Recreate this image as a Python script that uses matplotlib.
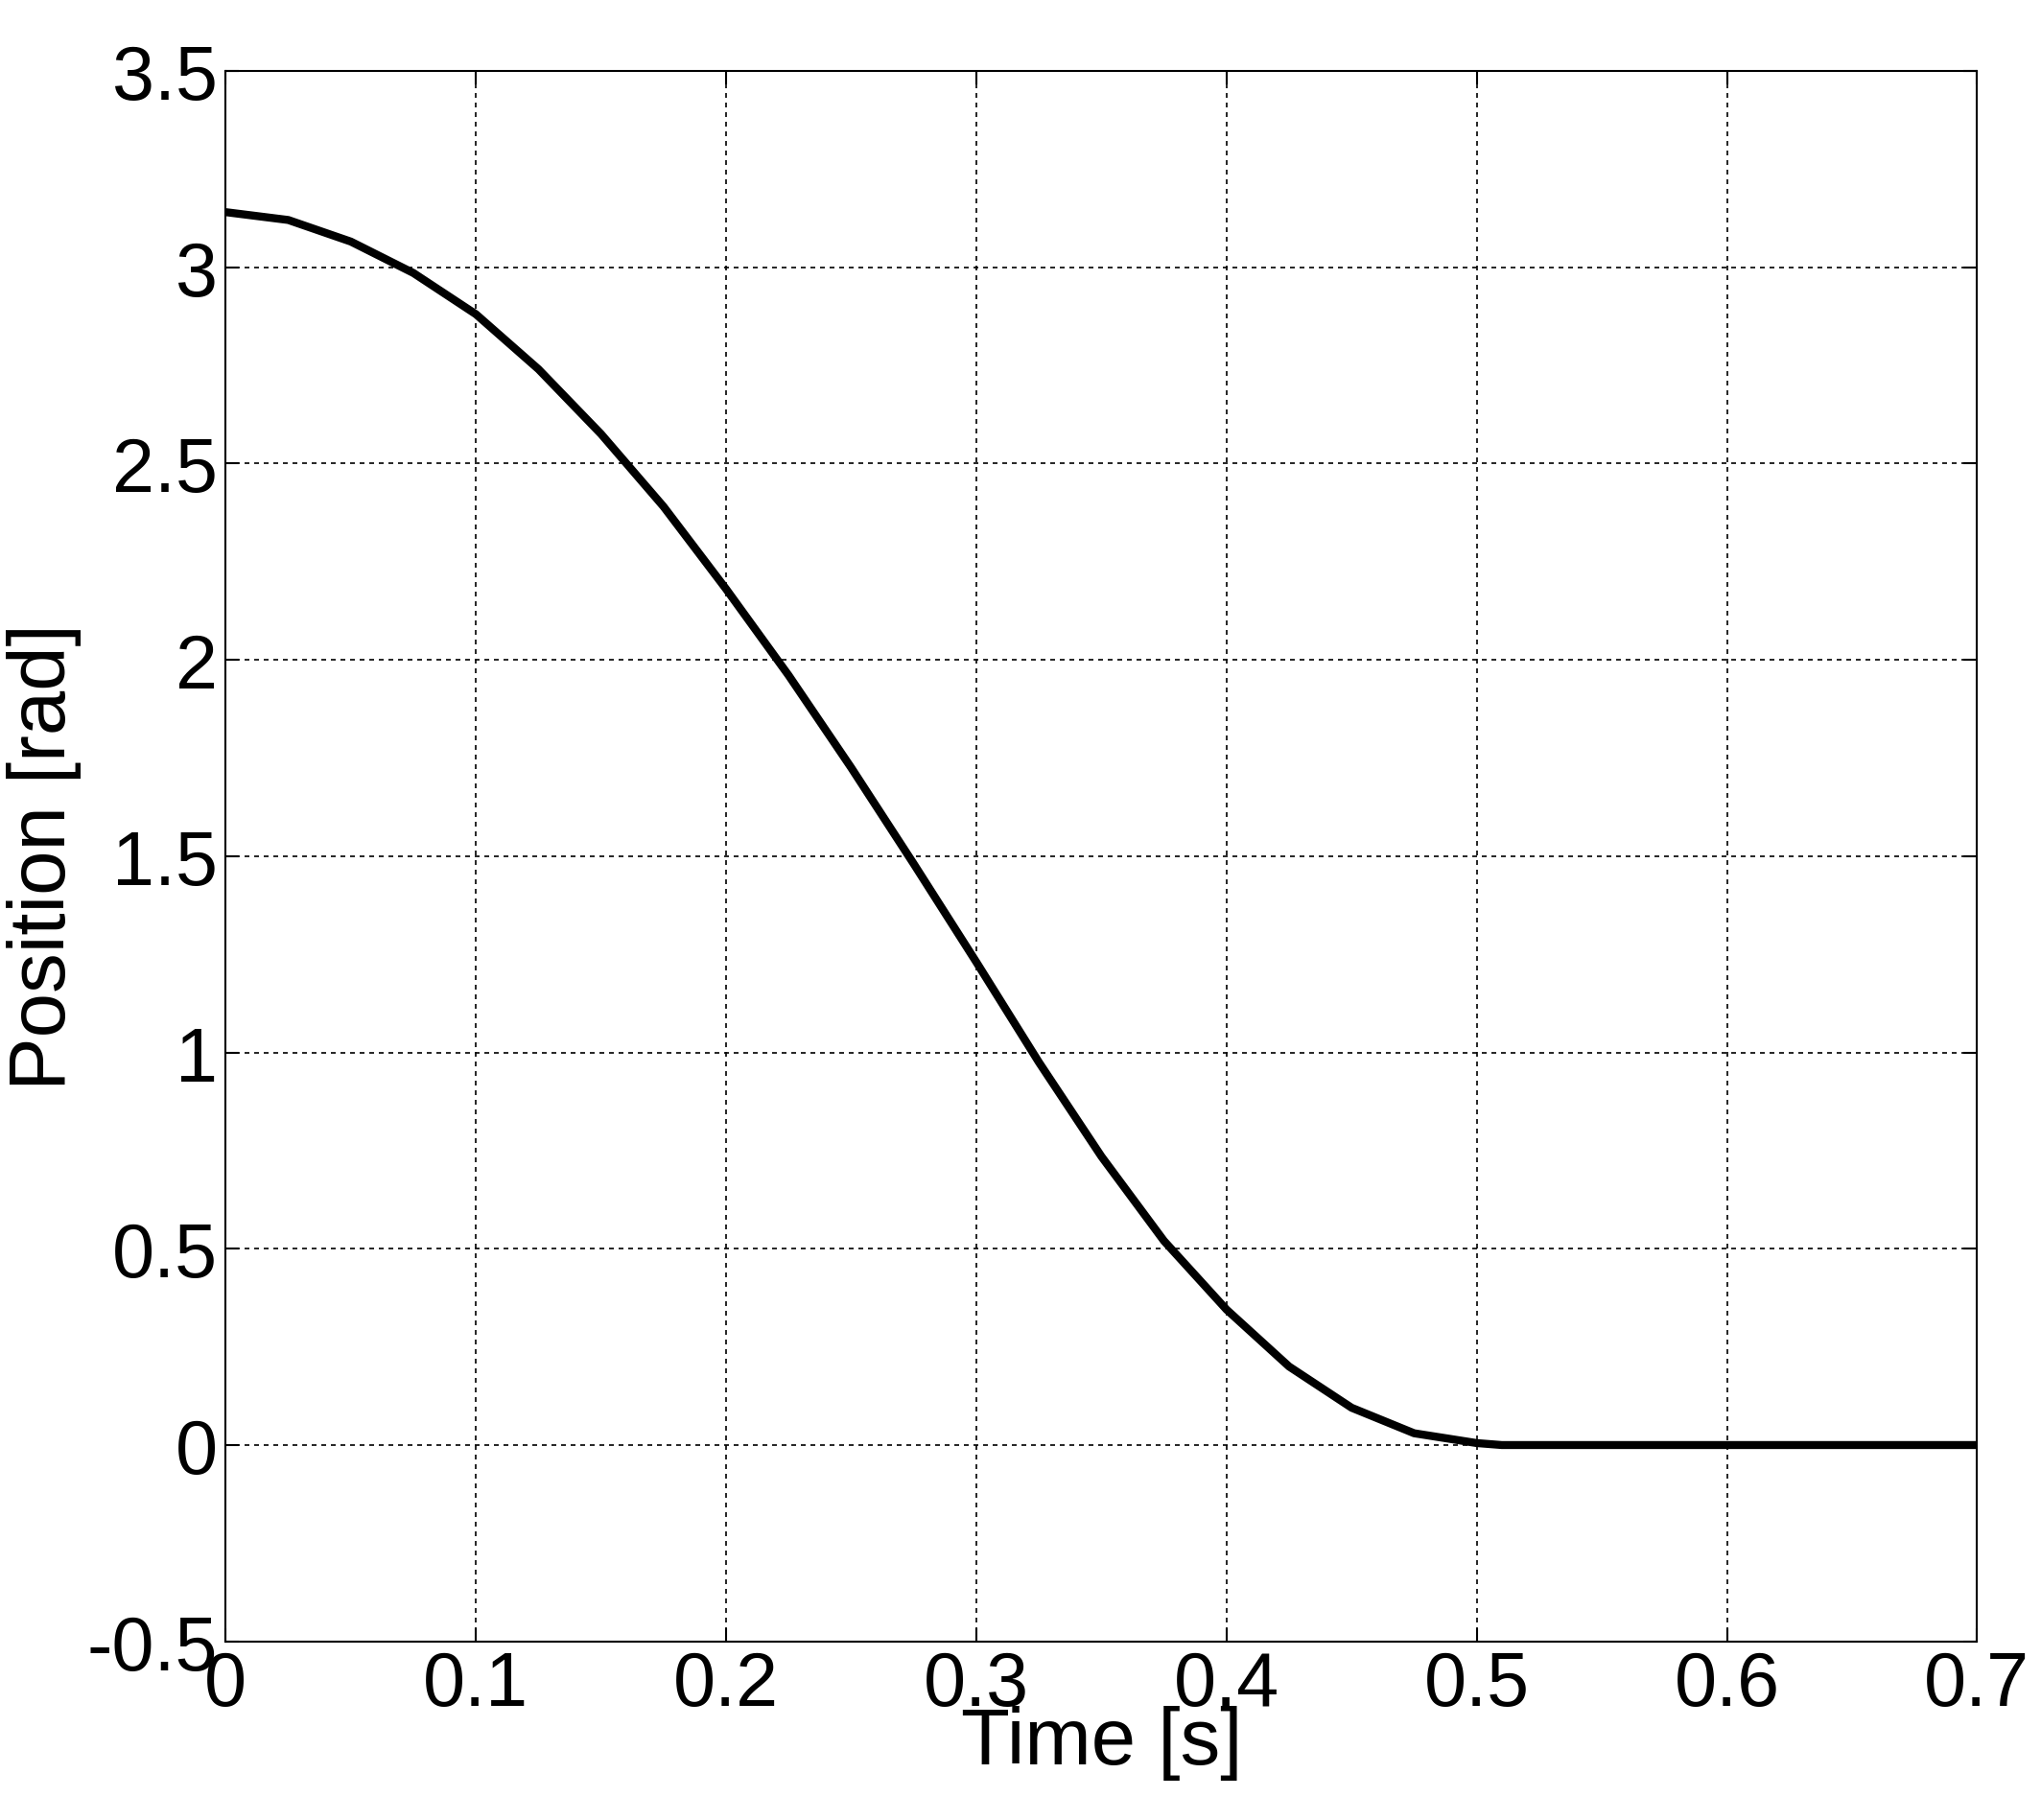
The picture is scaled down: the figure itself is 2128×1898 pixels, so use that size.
import matplotlib
matplotlib.use("Agg")
import matplotlib.pyplot as plt

time_s = [0, 0.025, 0.05, 0.075, 0.1, 0.125, 0.15, 0.175, 0.2, 0.225, 0.25, 0.275, 0.3,
          0.325, 0.35, 0.375, 0.4, 0.425, 0.45, 0.475, 0.5, 0.51, 0.6, 0.7]
position_rad = [3.14, 3.12, 3.065, 2.985, 2.88, 2.74, 2.575, 2.39, 2.18, 1.96, 1.725, 1.48, 1.23,
                0.975, 0.735, 0.52, 0.345, 0.20, 0.095, 0.03, 0.005, 0.0, 0.0, 0.0]
xticks = [0, 0.1, 0.2, 0.3, 0.4, 0.5, 0.6, 0.7]
xticklabels = ["0", "0.1", "0.2", "0.3", "0.4", "0.5", "0.6", "0.7"]
yticks = [-0.5, 0, 0.5, 1, 1.5, 2, 2.5, 3, 3.5]
yticklabels = ["-0.5", "0", "0.5", "1", "1.5", "2", "2.5", "3", "3.5"]

plt.rcParams['font.family'] = ['Liberation Sans', 'DejaVu Sans']
fig = plt.figure(figsize=(21.28, 18.99), dpi=100)
ax = fig.add_axes([0.1106, 0.0981, 0.8581, 0.8625])
ax.plot(time_s, position_rad, color='black', linewidth=6, solid_capstyle='butt',
        solid_joinstyle='round')
ax.set_xlim(0, 0.7)
ax.set_ylim(-0.5, 3.5)
ax.set_xticks(xticks)
ax.set_xticklabels(xticklabels)
ax.set_yticks(yticks)
ax.set_yticklabels(yticklabels)
ax.tick_params(labelsize=57, direction='in', length=10, width=1.5, top=True, right=True, pad=6)
ax.grid(True, color='black', linestyle=(0, (3, 3)), linewidth=1.2)
for s in ax.spines.values():
    s.set_linewidth(1.5)
ax.set_xlabel("Time [s]", fontsize=60, labelpad=-12)
ax.set_ylabel("Position [rad]", fontsize=60, labelpad=4)
fig.savefig("out.png", dpi=100, facecolor='white')
